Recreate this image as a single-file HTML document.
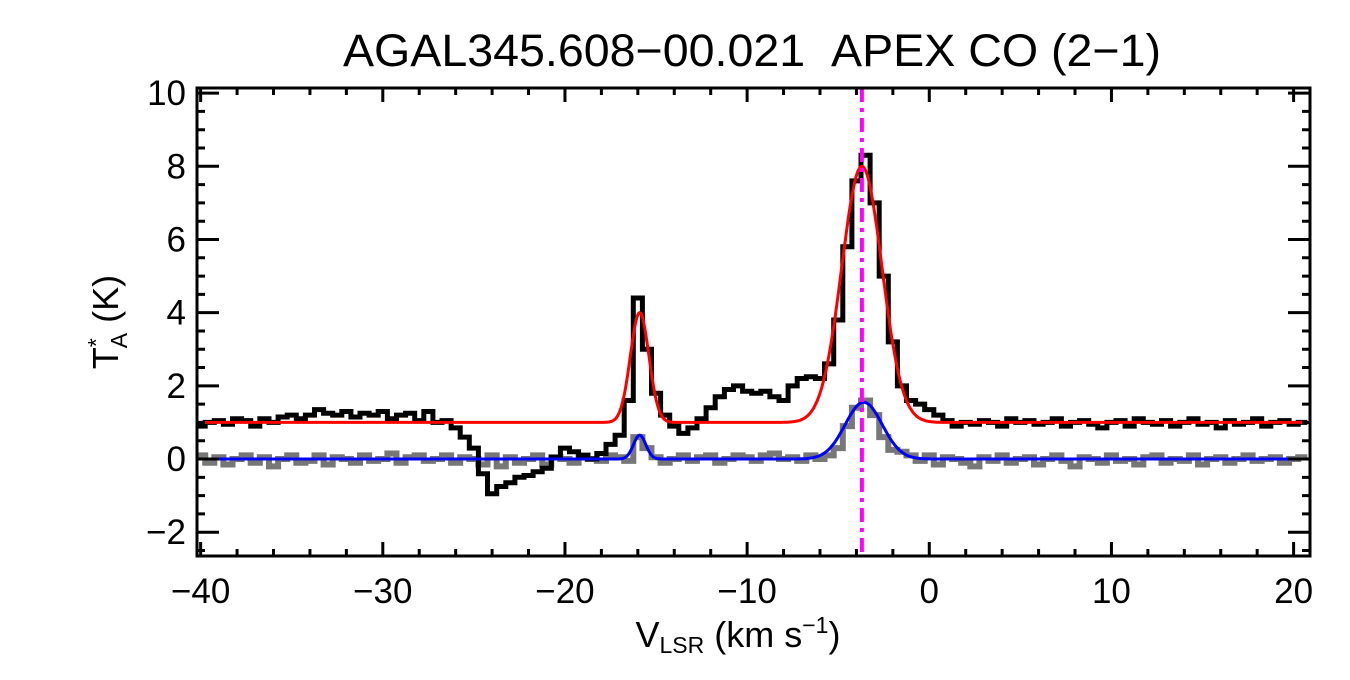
<!DOCTYPE html>
<html><head><meta charset="utf-8"><style>
body{margin:0;background:#fff;}
svg text{font-family:"Liberation Sans",sans-serif;fill:#000;}
</style></head><body>
<svg id="chart" width="1350" height="675" viewBox="0 0 1350 675" xmlns="http://www.w3.org/2000/svg">
<text x="752" y="66" font-size="45" text-anchor="middle" textLength="818" lengthAdjust="spacingAndGlyphs">AGAL345.608−00.021&#160;&#160;APEX CO (2−1)</text>
<g id="plot"></g>
<text x="738" y="647" font-size="36" text-anchor="middle">V<tspan font-size="23" dy="6">LSR</tspan><tspan dy="-6"> (km s</tspan><tspan font-size="23" dy="-14">−1</tspan><tspan dy="14">)</tspan></text>
<text transform="translate(118,322) rotate(-90)" font-size="36" text-anchor="middle">T<tspan font-size="23" dy="-14">*</tspan><tspan font-size="23" dx="-10" dy="23">A</tspan><tspan dy="-9"> (K)</tspan></text>
</svg>
<script>
const xTicks=[-40,-30,-20,-10,0,10,20];
const yTicks=[-2,0,2,4,6,8,10];
const vStart=-40, dv=0.5;
const obsCO=[0.9,1.0,1.05,0.95,1.1,1.05,0.9,1.1,1.0,1.15,1.2,1.1,1.2,1.35,1.25,1.2,1.3,1.15,1.25,1.2,1.3,1.1,1.2,1.25,1.05,1.3,1.0,1.05,
0.85,0.6,0.3,-0.4,-0.95,-0.75,-0.65,-0.5,-0.45,-0.35,-0.25,0.05,0.3,0.2,0.1,0.0,0.15,0.4,0.65,1.6,4.4,3.0,1.8,1.2,0.9,0.7,0.85,1.1,1.4,1.7,1.9,2.0,1.85,1.8,1.85,1.7,1.6,2.0,2.2,2.25,2.2,2.6,3.8,5.8,7.6,8.3,7.0,5.0,3.2,2.0,1.6,1.5,1.35,1.2,1.05,0.9,
1.0,0.95,1.05,1.0,0.9,1.1,1.0,1.05,0.95,1.0,1.1,0.9,1.0,1.05,0.95,0.85,1.0,1.05,0.9,1.1,1.0,0.95,1.05,0.9,1.0,1.1,0.95,1.0,0.85,1.05,0.95,1.0,1.1,0.9,1.0,1.05,0.95,1.0];
const obsIso=[0.1,-0.1,0.05,-0.15,0.0,0.1,-0.1,0.05,-0.2,0.0,0.1,-0.1,-0.05,0.1,-0.15,0.05,0.0,-0.1,0.1,-0.05,0.0,0.15,-0.1,0.05,0.1,-0.05,0.0,0.1,-0.1,0.05,0.0,-0.15,0.1,-0.2,0.05,-0.1,0.0,0.1,-0.15,0.05,0.0,-0.1,0.1,0.0,-0.05,0.1,0.05,-0.05,
0.6,0.3,
0.05,-0.1,0.0,0.1,-0.05,0.05,0.1,-0.1,0.0,0.1,0.05,-0.05,0.1,0.15,0.0,0.05,-0.05,0.1,0.0,0.1,
0.3,0.9,1.4,1.6,1.2,0.6,0.25,
0.2,0.1,-0.05,0.1,-0.15,0.05,0.0,-0.1,-0.2,0.05,-0.05,0.1,-0.1,0.0,0.05,-0.15,0.0,0.1,-0.05,-0.2,0.05,0.0,-0.1,0.1,-0.05,0.0,-0.15,0.05,0.1,-0.1,0.0,-0.05,0.1,-0.15,0.0,0.05,-0.1,0.0,0.1,-0.05,0.0,0.05,-0.1,0.0,0.05];
const fitCOBase=1.0, fitCOAmp=[3.0,7.0], fitCOCen=[-15.9,-3.7], fitCOFwhm=[1.2,2.6];
const fitIsoBase=0.0, fitIsoAmp=[0.65,1.55], fitIsoCen=[-15.9,-3.6], fitIsoFwhm=[0.8,2.4];
const vlsr=-3.7;

const L=197,R=1310,T=88,B=556,x0=-40.2,x1=20.9,y0=-2.65,y1=10.14;
const X=v=>L+(v-x0)/(x1-x0)*(R-L), Y=t=>B-(t-y0)/(y1-y0)*(B-T);
const ns="http://www.w3.org/2000/svg", g=document.getElementById('plot');
function mk(tag,at){const e=document.createElementNS(ns,tag);for(const k in at)e.setAttribute(k,at[k]);g.appendChild(e);return e;}
function steps(arr){let d='';arr.forEach((t,i)=>{const v=vStart+i*dv;const xa=X(Math.max(v-dv/2,x0)),xb=X(Math.min(v+dv/2,x1));d+=(i?'L':'M')+xa.toFixed(1)+','+Y(t).toFixed(1)+'L'+xb.toFixed(1)+','+Y(t).toFixed(1);});return d;}
function fit(base,a,c,w){let d='';for(let v=x0;v<=x1;v+=0.05){let t=base;for(let k=0;k<a.length;k++){const s=w[k]/2.3548;t+=a[k]*Math.exp(-0.5*((v-c[k])/s)**2);}d+=(d?'L':'M')+X(v).toFixed(1)+','+Y(t).toFixed(1);}return d;}
let e;
e=mk('path',{d:steps(obsIso),fill:'none',stroke:'#777',"stroke-width":6});


e=mk('path',{d:steps(obsCO),fill:'none',stroke:'#000',"stroke-width":5});


e=mk('path',{d:fit(fitCOBase,fitCOAmp,fitCOCen,fitCOFwhm),fill:'none',stroke:'#f00',"stroke-width":3});


e=mk('path',{d:fit(fitIsoBase,fitIsoAmp,fitIsoCen,fitIsoFwhm),fill:'none',stroke:'#00f',"stroke-width":3});


e=mk('line',{x1:X(vlsr),x2:X(vlsr),y1:T,y2:B,stroke:'#f0f',"stroke-width":4,"stroke-dasharray":"14,6,4,6"});


e=mk('rect',{x:L,y:T,width:R-L,height:B-T,fill:'none',stroke:'#000',"stroke-width":3});


for(let v=-40;v<=20;v+=2){const maj=v%10===0,len=maj?14:7;
 e=mk('path',{d:`M${X(v)},${B}v${-len}M${X(v)},${T}v${len}`,stroke:'#000',"stroke-width":3});
 
 }
for(let t=-2.5;t<=10;t+=0.5){const maj=Math.abs(t%2)<1e-6,len=maj?22:8;
 e=mk('path',{d:`M${L},${Y(t)}h${len}M${R},${Y(t)}h${-len}`,stroke:'#000',"stroke-width":3});
 
 }
xTicks.forEach(v=>{e=mk('text',{x:X(v),y:603,"font-size":35,"text-anchor":"middle"});e.textContent=String(v).replace('-','−');
 
 });
yTicks.forEach(t=>{e=mk('text',{x:186,y:Y(t)+12,"font-size":35,"text-anchor":"end"});e.textContent=String(t).replace('-','−');
 
 });
</script>
</body></html>
